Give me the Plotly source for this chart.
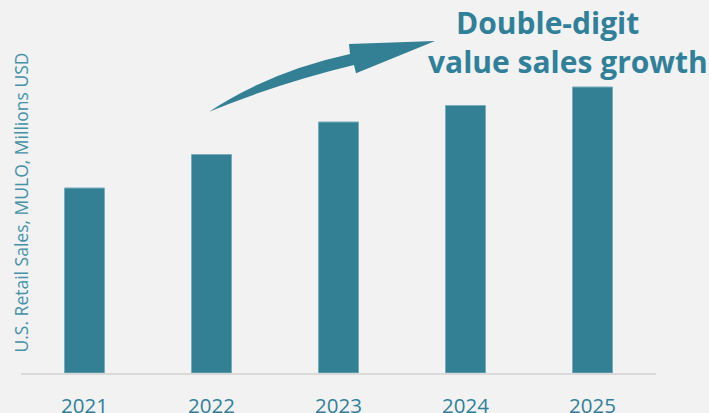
import plotly.graph_objects as go

# U.S. retail sales by year (MULO, millions USD)
years = ["2021", "2022", "2023", "2024", "2025"]
sales = [3700, 4370, 5020, 5350, 5720]

y_title = "U.S. Retail Sales, MULO, Millions USD"
headline = ["Double-digit", "value sales growth"]

TEAL = "#337f94"
BG = "#f2f2f2"

W, H = 709, 413
L, R, T, B = 21, 53, 0, 40
PW, PH = W - L - R, H - T - B


def px(x, y):
    """Pixel position on the page -> paper coordinates."""
    return (x - L) / PW, (H - B - y) / PH


def path(points):
    out = []
    for cmd, pts in points:
        coords = " ".join(f"{a:.4f},{b:.4f}" for a, b in (px(*p) for p in pts))
        out.append(f"{cmd} {coords}")
    return " ".join(out) + " Z"


fig = go.Figure(
    go.Bar(
        x=years,
        y=sales,
        marker=dict(color=TEAL, line=dict(color="#79adbb", width=1)),
        width=0.315,
    )
)

# curved growth arrow
arrow = path([
    ("M", [(209, 111.7)]),
    ("Q", [(270.5, 71.2), (350, 54)]),
    ("L", [(349, 44)]),
    ("L", [(435, 41)]),
    ("L", [(356, 73.3)]),
    ("L", [(354, 65)]),
    ("Q", [(280.5, 82.6), (209, 111.7)]),
])
fig.add_shape(type="path", path=arrow, xref="paper", yref="paper",
              fillcolor=TEAL, line=dict(width=0), layer="above")

hx1, hy1 = px(547.5, 22.5)
hx2, hy2 = px(567.5, 61)
fig.add_annotation(text=f"<b>{headline[0]}</b>", x=hx1, y=hy1, xref="paper", yref="paper",
                   xanchor="center", yanchor="middle", showarrow=False,
                   font=dict(family="Open Sans", size=30, color="#31809a"))
fig.add_annotation(text=f"<b>{headline[1]}</b>", x=hx2, y=hy2, xref="paper", yref="paper",
                   xanchor="center", yanchor="middle", showarrow=False,
                   font=dict(family="Open Sans", size=30, color="#31809a"))

tx, ty = px(20, 202.5)
fig.add_annotation(text=y_title, x=tx, y=ty, xref="paper", yref="paper",
                   xanchor="center", yanchor="middle", textangle=-90, showarrow=False,
                   font=dict(family="Open Sans", size=17.5, color="#4491a8"))

fig.update_layout(
    width=W, height=H,
    margin=dict(l=L, r=R, t=T, b=B, autoexpand=False),
    paper_bgcolor=BG, plot_bgcolor=BG,
    showlegend=False,
    xaxis=dict(
        automargin=False,
        showline=True, linecolor="#d9d9d9", linewidth=2,
        showgrid=False, ticks="outside", ticklen=13, tickcolor="rgba(0,0,0,0)",
        tickfont=dict(family="Open Sans", size=20.5, color="#31809a"),
    ),
    yaxis=dict(range=[0, 7460], visible=False, showgrid=False, zeroline=False),
)

fig.write_html("out.html")
